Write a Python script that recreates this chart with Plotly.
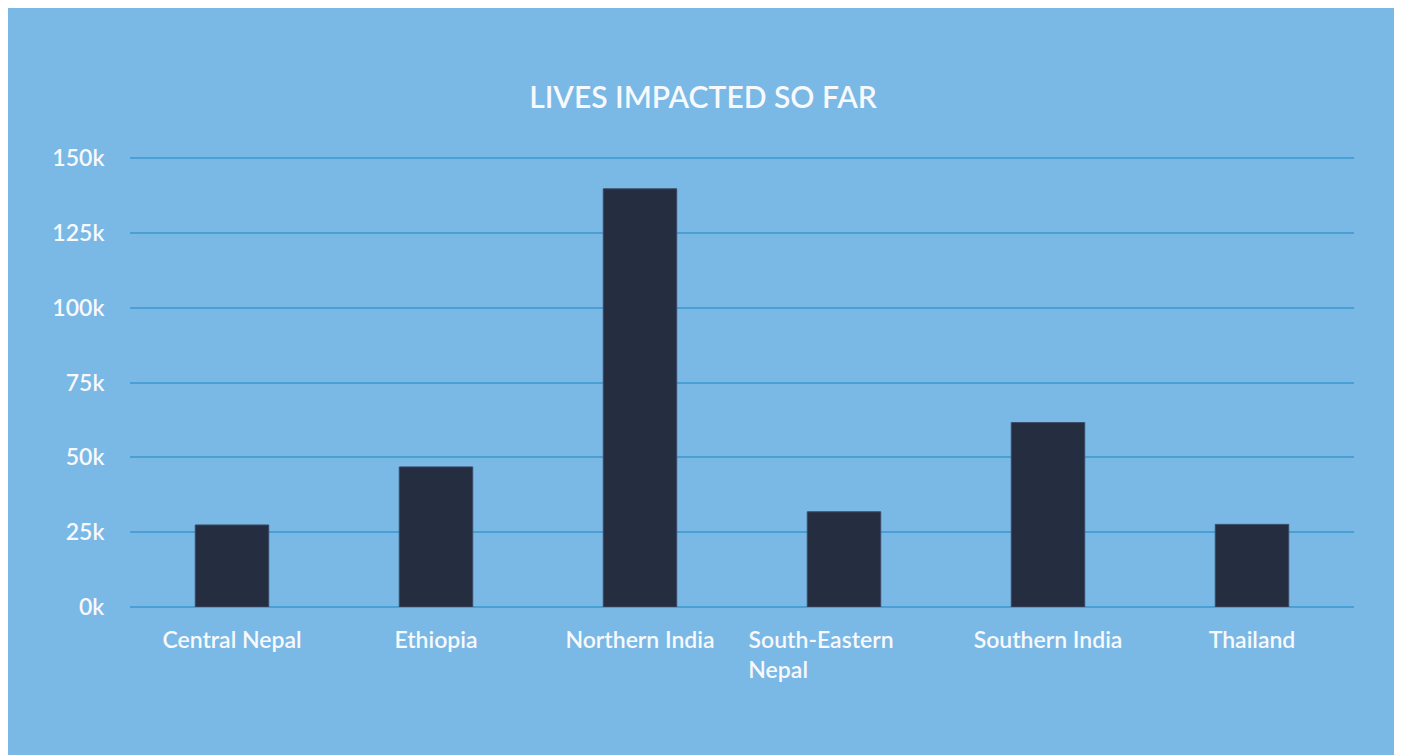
import plotly.graph_objects as go

categories = ["Central Nepal", "Ethiopia", "Northern India", "South-Eastern Nepal", "Southern India", "Thailand"]
tick_texts = ["Central Nepal", "Ethiopia", "Northern India",
              "South-Eastern" + "\u00a0" * 8 + "<br>Nepal" + "\u00a0" * 23,
              "Southern India", "Thailand"]
lives = [27400, 46800, 139700, 31800, 61600, 27600]
y_tickvals = [0, 25000, 50000, 75000, 100000, 125000, 150000]
y_ticktext = ["0k", "25k", "50k", "75k", "100k", "125k", "150k"]

W, H = 1390, 747
L, R = 122, 44
B = 148
YMAX = 151000
ph = round(YMAX * 449 / 150000)
T = H - B - ph

BG = "#7ab8e6"
GRID = "#4a9fd4"
BAR = "#252d40"
TXT = "#f7f9fc"
FONT = "Lato"

fig = go.Figure(go.Bar(
    x=categories, y=lives,
    marker=dict(color=BAR, line=dict(color="#3b4a66", width=1)),
    width=0.36,
))

fig.update_layout(
    width=W, height=H,
    margin=dict(l=L, r=R, t=T, b=B),
    paper_bgcolor=BG,
    plot_bgcolor=BG,
    showlegend=False,
    title=dict(text="LIVES IMPACTED SO FAR", x=0.5, xanchor="center",
               y=1 - 89 / H, yanchor="middle",
               font=dict(family=FONT, size=30, color=TXT, weight=600)),
    font=dict(family=FONT, color=TXT),
)
fig.update_xaxes(
    tickvals=categories, ticktext=tick_texts,
    tickfont=dict(family=FONT, size=23, color=TXT, weight=600),
    ticks="outside", ticklen=12, tickcolor="rgba(0,0,0,0)",
    showgrid=False, showline=False, zeroline=False,
    range=[-0.5, 5.5], fixedrange=True,
)
fig.update_yaxes(
    range=[0, YMAX], tickvals=y_tickvals, ticktext=y_ticktext,
    tickfont=dict(family=FONT, size=23, color=TXT, weight=600),
    ticks="outside", ticklen=20, tickcolor="rgba(0,0,0,0)",
    showgrid=True, gridcolor=GRID, gridwidth=1.5,
    zeroline=True, zerolinecolor=GRID, zerolinewidth=1.5,
    showline=False, fixedrange=True,
)

fig.write_html("out.html", config={"displayModeBar": False})
